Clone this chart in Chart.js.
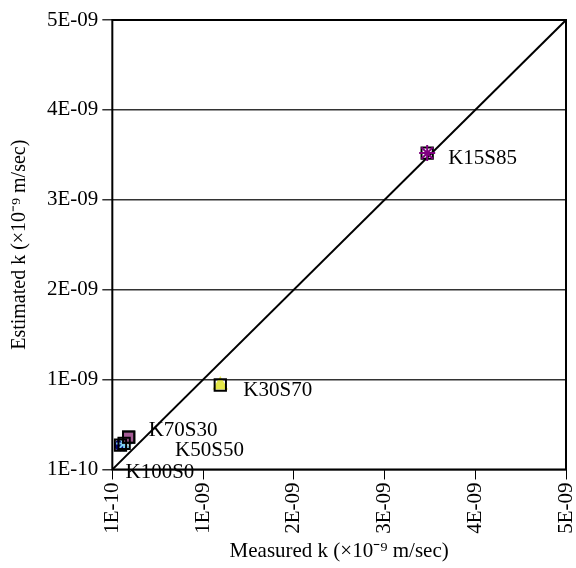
<!DOCTYPE html>
<html>
<head>
<meta charset="utf-8">
<script src="https://cdn.jsdelivr.net/npm/chart.js@4.4.1/dist/chart.umd.min.js"></script>
<style>
  body { margin: 0; background: #fff; }
  #wrap { width: 576px; height: 568px; }
</style>
</head>
<body>
<div id="wrap"><canvas id="scatter"></canvas></div>
<script>
// values in units of 1e-9 m/sec
const samples = ['K15S85', 'K30S70', 'K70S30', 'K50S50', 'K100S0'];
const measured = [3.57, 1.29, 0.28, 0.23, 0.19];
const estimated = [3.62, 1.04, 0.46, 0.39, 0.37];
const tickValues = [0.1, 1.1, 2.1, 3.1, 4.1, 5.1];
const tickLabels = ['1E-10', '1E-09', '2E-09', '3E-09', '4E-09', '5E-09'];
const lineEnds = [0.1, 5.1];

const markerStyles = [
    { pointStyle: 'star', color: '#800080', fill: '#800080', radius: 8, order: -2 },
    { pointStyle: 'triangle', color: '#e4e84a', fill: '#e4e84a', radius: 7, order: 0 },
    { pointStyle: 'rect', color: '#333', fill: '#a45a94', radius: 8, order: 0 },
    { pointStyle: 'star', color: '#7fd0ee', fill: '#7fd0ee', radius: 8, order: 0 },
    { pointStyle: 'circle', color: '#000080', fill: '#000080', radius: 5, order: 0 }
];
const labelOffsets = [[21, 5], [23, 6], [20, -7], [51, 7], [5, 27]];

const serif = 'Liberation Serif';

const pointLabels = {
    id: 'pointLabels',
    afterDatasetsDraw(chart) {
        const { ctx, scales } = chart;
        ctx.save();
        ctx.font = '21px "' + serif + '"';
        ctx.fillStyle = '#000';
        ctx.textBaseline = 'middle';
        ctx.textAlign = 'left';
        samples.forEach((name, i) => {
            const px = scales.x.getPixelForValue(measured[i]);
            const py = scales.y.getPixelForValue(estimated[i]);
            ctx.fillText(name, px + labelOffsets[i][0], py + labelOffsets[i][1]);
        });
        ctx.restore();
    }
};

const frame = {
    id: 'frame',
    beforeDatasetsDraw(chart) {
        const { ctx, chartArea: a } = chart;
        ctx.save();
        ctx.strokeStyle = '#000';
        ctx.lineWidth = 2;
        ctx.strokeRect(a.left, a.top, a.right - a.left, a.bottom - a.top);
        ctx.restore();
    }
};

const datasets = samples.map((name, i) => ({
    label: name,
    data: [{ x: measured[i], y: estimated[i] }],
    pointStyle: markerStyles[i].pointStyle,
    pointRadius: markerStyles[i].radius,
    borderColor: markerStyles[i].color,
    backgroundColor: markerStyles[i].fill,
    pointBorderWidth: 2,
    order: markerStyles[i].order
}));

datasets.push({
    label: 'outline',
    data: measured.map((m, i) => ({ x: m, y: estimated[i] })),
    pointStyle: 'rect',
    pointRadius: 8,
    borderColor: '#000',
    backgroundColor: 'rgba(0,0,0,0)',
    pointBorderWidth: 2,
    order: -1
});

datasets.push({
    type: 'line',
    label: '1:1',
    data: lineEnds.map(v => ({ x: v, y: v })),
    borderColor: '#000',
    borderWidth: 2,
    pointRadius: 0,
    order: 1
});

const fixTicks = scale => { scale.ticks = tickValues.map(v => ({ value: v })); };

new Chart(document.getElementById('scatter'), {
    type: 'scatter',
    data: { datasets },
    options: {
        responsive: true,
        maintainAspectRatio: false,
        animation: false,
        layout: { padding: { top: 20, right: 10, left: 8, bottom: 4 } },
        plugins: {
            legend: { display: false },
            tooltip: { enabled: false }
        },
        scales: {
            x: {
                type: 'linear',
                min: 0.1,
                max: 5.1,
                afterBuildTicks: fixTicks,
                afterFit: s => { s.paddingRight = 0; s.paddingLeft = 0; },
                border: { display: false },
                grid: { drawOnChartArea: false, tickLength: 10, color: '#000', lineWidth: 1 },
                ticks: {
                    minRotation: 90,
                    maxRotation: 90,
                    padding: 3,
                    color: '#000',
                    font: { family: serif, size: 21 },
                    callback: (v, i) => tickLabels[i]
                },
                title: {
                    display: true,
                    text: 'Measured k (×10⁻⁹ m/sec)',
                    color: '#000',
                    font: { family: serif, size: 21 },
                    padding: { top: 2, bottom: 0 }
                }
            },
            y: {
                type: 'linear',
                min: 0.1,
                max: 5.1,
                afterBuildTicks: fixTicks,
                border: { display: false },
                grid: { tickLength: 10, color: '#333', lineWidth: 1.5 },
                ticks: {
                    padding: 4,
                    color: '#000',
                    font: { family: serif, size: 21 },
                    callback: (v, i) => tickLabels[i]
                },
                title: {
                    display: true,
                    text: 'Estimated k (×10⁻⁹ m/sec)',
                    color: '#000',
                    font: { family: serif, size: 20 },
                    padding: { top: 0, bottom: 11 }
                }
            }
        }
    },
    plugins: [frame, pointLabels]
});
</script>
</body>
</html>
